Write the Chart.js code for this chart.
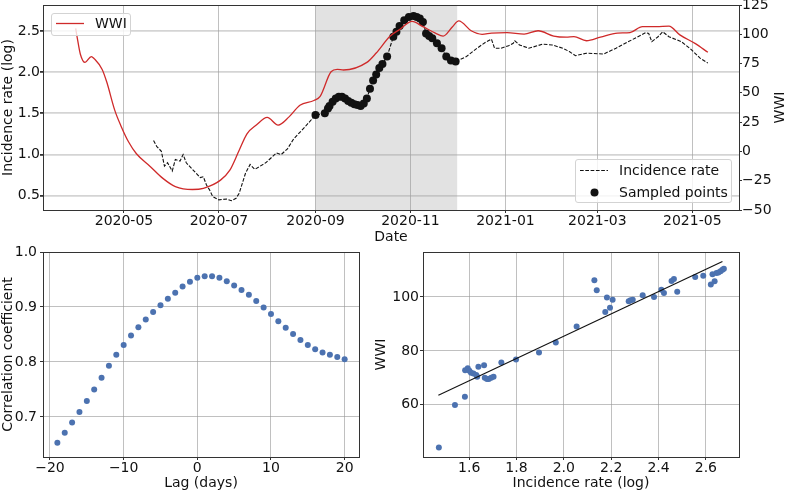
<!DOCTYPE html>
<html>
<head>
<meta charset="utf-8">
<script src="https://cdn.jsdelivr.net/npm/chart.js@4/dist/chart.umd.min.js"></script>
<style>
  body { margin: 0; background: #fff; }
  #wrap { position: relative; width: 787px; height: 492px; overflow: hidden; font-family: 'DejaVu Sans', sans-serif; }
  canvas { position: absolute; }
  .legend { position: absolute; box-sizing: border-box; background: rgba(255,255,255,0.8); border: 1px solid #d3d3d3; border-radius: 3px; }
  .legend svg { position: absolute; }
  .legend span { position: absolute; font-size: 14px; line-height: 17px; color: #111; white-space: nowrap; }
</style>
</head>
<body>
<div id="wrap">
  <canvas id="topChart" width="787" height="250" style="left:0;top:0"></canvas>
  <canvas id="lagChart" width="365" height="252" style="left:0;top:240px"></canvas>
  <canvas id="fitChart" width="422" height="252" style="left:365px;top:240px"></canvas>

  <div class="legend" style="left:51px;top:13px;width:80px;height:23px">
    <svg style="left:4px;top:8px" width="28" height="3"><line x1="0" y1="1.5" x2="28" y2="1.5" stroke="#cf2a2a" stroke-width="1.3"/></svg>
    <span style="left:43px;top:1px">WWI</span>
  </div>
  <div class="legend" style="left:575px;top:159px;width:157px;height:44px">
    <svg style="left:4px;top:9px" width="28" height="3"><line x1="0" y1="1.5" x2="28" y2="1.5" stroke="#111" stroke-width="1.1" stroke-dasharray="3.7 1.6"/></svg>
    <svg style="left:14px;top:28px" width="9" height="9"><circle cx="4.5" cy="4.5" r="4" fill="#111"/></svg>
    <span style="left:43px;top:2px">Incidence rate</span>
    <span style="left:43px;top:24px">Sampled points</span>
  </div>
</div>

<script>
/* =========================
   Top panel: WWI vs incidence rate
========================= */
const wwiDates = [
  '2020-03-31', '2020-04-01', '2020-04-03', '2020-04-06', '2020-04-10', '2020-04-12',
  '2020-04-17', '2020-04-20', '2020-04-25', '2020-04-29', '2020-05-04', '2020-05-09',
  '2020-05-18', '2020-05-26', '2020-06-03', '2020-06-14', '2020-06-21', '2020-07-02',
  '2020-07-08', '2020-07-14', '2020-07-19', '2020-07-25', '2020-08-01', '2020-08-08',
  '2020-08-15', '2020-08-22', '2020-08-31', '2020-09-04', '2020-09-11', '2020-09-15',
  '2020-09-19', '2020-10-04', '2020-10-10', '2020-10-19', '2020-10-25', '2020-11-02',
  '2020-11-09', '2020-11-17', '2020-11-22', '2020-11-28', '2020-12-02', '2020-12-10',
  '2020-12-17', '2020-12-23', '2021-01-02', '2021-01-13', '2021-01-22', '2021-02-01',
  '2021-02-09', '2021-02-14', '2021-02-22', '2021-03-03', '2021-03-14', '2021-03-22',
  '2021-03-30', '2021-04-08', '2021-04-16', '2021-04-23', '2021-05-03', '2021-05-11'
];
const wwiValues = [
  105, 97, 83, 76, 81, 79,
  70, 59, 35.5, 22, 8, -2,
  -13, -23, -30, -32.5, -31.5, -24.5,
  -16, 1, 15, 22.5, 29, 22.5,
  29.5, 39.5, 43.5, 47, 68, 70,
  69.5, 76, 84, 98.5, 104, 111,
  106.5, 101, 98.5, 106.5, 111.5, 103,
  100, 101, 101.5, 100.2, 103, 98.5,
  97.5, 98, 94.5, 97.5, 101, 101.5,
  106.5, 106.5, 107, 99.5, 92, 84.6
];

const incDates = [
  '2020-05-20', '2020-05-22', '2020-05-25', '2020-05-27', '2020-05-29', '2020-06-01',
  '2020-06-03', '2020-06-06', '2020-06-08', '2020-06-10', '2020-06-14', '2020-06-19',
  '2020-06-21', '2020-06-23', '2020-06-25', '2020-06-27', '2020-07-01', '2020-07-06',
  '2020-07-09', '2020-07-12', '2020-07-14', '2020-07-18', '2020-07-21', '2020-07-24',
  '2020-07-31', '2020-08-07', '2020-08-10', '2020-08-14', '2020-08-18', '2020-08-25',
  '2020-09-01', '2020-09-07', '2020-09-09', '2020-09-10', '2020-09-12', '2020-09-14',
  '2020-09-16', '2020-09-18', '2020-09-20', '2020-09-22', '2020-09-24', '2020-09-26',
  '2020-09-28', '2020-09-30', '2020-10-02', '2020-10-04', '2020-10-06', '2020-10-08',
  '2020-10-10', '2020-10-12', '2020-10-14', '2020-10-17', '2020-10-21', '2020-10-23',
  '2020-10-25', '2020-10-28', '2020-10-31', '2020-11-03', '2020-11-05', '2020-11-07',
  '2020-11-09', '2020-11-11', '2020-11-13', '2020-11-15', '2020-11-18', '2020-11-21',
  '2020-11-24', '2020-11-27', '2020-11-30', '2020-12-07', '2020-12-13', '2020-12-19',
  '2020-12-23', '2020-12-25', '2020-12-29', '2021-01-03', '2021-01-06', '2021-01-07',
  '2021-01-10', '2021-01-16', '2021-01-25', '2021-01-31', '2021-02-07', '2021-02-11',
  '2021-02-15', '2021-02-22', '2021-03-05', '2021-03-13', '2021-03-20', '2021-03-26',
  '2021-04-01', '2021-04-03', '2021-04-05', '2021-04-09', '2021-04-12', '2021-04-16',
  '2021-04-24', '2021-04-30', '2021-05-06', '2021-05-11'
];
const incValues = [
  1.17, 1.10, 1.04, 0.86, 0.90, 0.80,
  0.94, 0.92, 1.00, 0.90, 0.82, 0.72,
  0.73, 0.63, 0.57, 0.49, 0.45, 0.46,
  0.44, 0.47, 0.53, 0.77, 0.88, 0.82,
  0.90, 1.02, 1.00, 1.07, 1.19, 1.33,
  1.48, 1.50, 1.56, 1.59, 1.64, 1.68,
  1.70, 1.70, 1.68, 1.65, 1.63, 1.61,
  1.60, 1.59, 1.62, 1.68, 1.80, 1.90,
  1.97, 2.05, 2.10, 2.19, 2.43, 2.49,
  2.56, 2.63, 2.67, 2.68, 2.67, 2.65,
  2.61, 2.47, 2.44, 2.41, 2.35, 2.29,
  2.19, 2.14, 2.13, 2.19, 2.28, 2.36,
  2.40, 2.29, 2.29, 2.32, 2.35, 2.38,
  2.33, 2.29, 2.34, 2.33, 2.29, 2.25,
  2.20, 2.23, 2.22, 2.29, 2.36, 2.42,
  2.48, 2.47, 2.37, 2.43, 2.49, 2.43,
  2.37, 2.28, 2.17, 2.11
];

// sampling window (shaded)
const sampleStart = '2020-09-01';
const sampleEnd = '2020-12-01';

const dateMin = '2020-03-10';
const dateMax = '2021-05-31';
const dateTicks = ['2020-05-01', '2020-07-01', '2020-09-01', '2020-11-01', '2021-01-01', '2021-03-01', '2021-05-01'];
const dateTickLabels = ['2020-05', '2020-07', '2020-09', '2020-11', '2021-01', '2021-03', '2021-05'];
const incTicks = [0.5, 1.0, 1.5, 2.0, 2.5];
const wwiTicks = [-50, -25, 0, 25, 50, 75, 100, 125];

/* =========================
   Bottom left: lag correlation
========================= */
const lags = [-19, -18, -17, -16, -15, -14, -13, -12, -11, -10, -9, -8, -7, -6, -5, -4, -3, -2, -1, 0,
              1, 2, 3, 4, 5, 6, 7, 8, 9, 10, 11, 12, 13, 14, 15, 16, 17, 18, 19, 20];
const corr = [0.653, 0.671, 0.690, 0.709, 0.729, 0.750, 0.771, 0.793, 0.813, 0.831,
              0.848, 0.863, 0.877, 0.891, 0.903, 0.915, 0.926, 0.937, 0.946, 0.953,
              0.956, 0.956, 0.953, 0.947, 0.939, 0.931, 0.922, 0.911, 0.899, 0.887,
              0.874, 0.862, 0.851, 0.840, 0.831, 0.823, 0.817, 0.813, 0.809, 0.805];
const lagTicks = [-20, -10, 0, 10, 20];
const corrTicks = [0.7, 0.8, 0.9, 1.0];

/* =========================
   Bottom right: WWI vs incidence
========================= */
const scatterInc = [1.472, 1.540, 1.582, 1.583, 1.594, 1.601, 1.608, 1.618, 1.630, 1.634,
                    1.639, 1.663, 1.666, 1.675, 1.683, 1.693, 1.703, 1.736, 1.798, 1.895,
                    1.966, 2.054, 2.129, 2.139, 2.175, 2.182, 2.195, 2.206, 2.274, 2.282,
                    2.291, 2.333, 2.381, 2.412, 2.423, 2.455, 2.465, 2.479, 2.555, 2.589,
                    2.621, 2.628, 2.637, 2.645, 2.653, 2.662, 2.670, 2.676];
const scatterWwi = [44.1, 59.9, 63.0, 72.8, 73.5, 72.6, 71.9, 71.6, 71.0, 70.4,
                    74.1, 74.7, 70.0, 69.6, 69.6, 70.0, 70.4, 75.7, 76.8, 79.4,
                    83.1, 89.0, 106.2, 102.5, 94.4, 99.8, 96.0, 99.0, 98.4, 98.8,
                    99.0, 100.6, 100.0, 102.7, 101.5, 105.9, 106.7, 101.9, 107.4, 107.9,
                    104.6, 108.4, 105.8, 108.9, 109.1, 109.6, 110.1, 110.5];
const fitInc = [1.47, 2.67];
const fitWwi = [63.5, 113.2];
const scatterIncTicks = [1.6, 1.8, 2.0, 2.2, 2.4, 2.6];
const scatterWwiTicks = [60, 80, 100];


/* =========================
   Helpers
========================= */
Chart.defaults.font.family = "'DejaVu Sans', sans-serif";
Chart.defaults.font.size = 14;
Chart.defaults.color = '#111';

function toDay(d) {
    return Date.UTC(+d.slice(0, 4), +d.slice(5, 7) - 1, +d.slice(8, 10)) / 86400000;
}

function minus(v) {
    return String(v).replace('-', '\u2212');
}

// pin the axis box size so the plot area lands where it should
function fixBox(size) {
    return function (scale) {
        if (scale.isHorizontal()) {
            scale.height = size;
        } else {
            scale.width = size;
        }
        scale.paddingTop = 0;
        scale.paddingBottom = 0;
        scale.paddingLeft = 0;
        scale.paddingRight = 0;
    };
}

function setTicks(values) {
    return function (scale) {
        scale.ticks = values.map(v => ({ value: v }));
    };
}

const gridLight = 'rgba(160,160,160,0.45)';
const gridMid = 'rgba(150,150,150,0.6)';
const spine = '#333';

const frame = {
    id: 'frame',
    afterDatasetsDraw(chart) {
        const { ctx, chartArea: a } = chart;
        ctx.save();
        ctx.strokeStyle = spine;
        ctx.lineWidth = 1;
        ctx.strokeRect(Math.round(a.left) + 0.5, Math.round(a.top) + 0.5,
            Math.round(a.right - a.left), Math.round(a.bottom - a.top));
        ctx.restore();
    }
};

const shade = {
    id: 'shade',
    beforeDraw(chart) {
        const { ctx, chartArea: a, scales } = chart;
        const x0 = scales.x.getPixelForValue(toDay(sampleStart));
        const x1 = scales.x.getPixelForValue(toDay(sampleEnd));
        ctx.save();
        ctx.fillStyle = '#e2e2e2';
        ctx.fillRect(x0, a.top, x1 - x0, a.bottom - a.top);
        ctx.restore();
    }
};

// matplotlib-style right label (reads bottom to top)
const rightLabel = {
    id: 'rightLabel',
    afterDraw(chart) {
        const { ctx, chartArea: a } = chart;
        ctx.save();
        ctx.translate(chart.width - 7, (a.top + a.bottom) / 2);
        ctx.rotate(-Math.PI / 2);
        ctx.font = "14px 'DejaVu Sans'";
        ctx.fillStyle = '#111';
        ctx.textAlign = 'center';
        ctx.textBaseline = 'middle';
        ctx.fillText('WWI', 0, 0);
        ctx.restore();
    }
};


/* =========================
   Top chart
========================= */
const incPoints = incDates.map((d, i) => ({ x: toDay(d), y: incValues[i] }));
const sampledPoints = incPoints.filter(p => p.x >= toDay(sampleStart) && p.x < toDay(sampleEnd));

new Chart(document.getElementById('topChart'), {
    type: 'line',
    data: {
        datasets: [
            {
                label: 'WWI',
                data: wwiDates.map((d, i) => ({ x: toDay(d), y: wwiValues[i] })),
                yAxisID: 'y2',
                borderColor: '#cf2a2a',
                borderWidth: 1.3,
                pointRadius: 0,
                cubicInterpolationMode: 'monotone',
                order: 0
            },
            {
                label: 'Sampled points',
                data: sampledPoints,
                yAxisID: 'y',
                showLine: false,
                pointRadius: 4,
                pointBackgroundColor: '#111',
                pointBorderWidth: 0,
                order: 1
            },
            {
                label: 'Incidence rate',
                data: incPoints,
                yAxisID: 'y',
                borderColor: '#111',
                borderWidth: 1.1,
                borderDash: [3.7, 1.6],
                pointRadius: 0,
                tension: 0,
                order: 2
            }
        ]
    },
    options: {
        animation: false,
        responsive: false,
        devicePixelRatio: 1,
        layout: { padding: { top: 5, left: 0, right: 0, bottom: 0 } },
        plugins: { legend: { display: false }, tooltip: { enabled: false } },
        scales: {
            x: {
                type: 'linear',
                min: toDay(dateMin),
                max: toDay(dateMax),
                afterBuildTicks: setTicks(dateTicks.map(toDay)),
                afterFit: fixBox(40),
                ticks: { callback: (v, i) => dateTickLabels[i], padding: 0, maxRotation: 0, autoSkip: false },
                grid: { color: gridMid, lineWidth: 1, tickLength: 3, tickColor: spine },
                border: { display: false },
                title: { display: true, text: 'Date', padding: { top: 0, bottom: 4 } }
            },
            y: {
                position: 'left',
                min: 0.327,
                max: 2.815,
                afterBuildTicks: setTicks(incTicks),
                afterFit: fixBox(43),
                ticks: { callback: v => v.toFixed(1), padding: 0 },
                grid: { color: gridLight, lineWidth: 1.8, tickLength: 3, tickColor: spine },
                border: { display: false },
                title: { display: true, text: 'Incidence rate (log)', padding: 0 }
            },
            y2: {
                position: 'right',
                min: -50,
                max: 125,
                afterBuildTicks: setTicks(wwiTicks),
                afterFit: fixBox(48),
                ticks: { callback: v => minus(v), padding: 0 },
                grid: { drawOnChartArea: false, tickLength: 3, tickColor: spine },
                border: { display: false }
            }
        }
    },
    plugins: [shade, frame, rightLabel]
});


/* =========================
   Lag correlation chart
========================= */
new Chart(document.getElementById('lagChart'), {
    type: 'scatter',
    data: {
        datasets: [{
            data: lags.map((l, i) => ({ x: l, y: corr[i] })),
            pointRadius: 3,
            pointBackgroundColor: '#4c72b0',
            pointBorderWidth: 0
        }]
    },
    options: {
        animation: false,
        responsive: false,
        devicePixelRatio: 1,
        layout: { padding: { top: 12, left: 0, right: 6, bottom: 0 } },
        plugins: { legend: { display: false }, tooltip: { enabled: false } },
        scales: {
            x: {
                min: -20.95,
                max: 21.95,
                afterBuildTicks: setTicks(lagTicks),
                afterFit: fixBox(35),
                ticks: { callback: v => minus(v), padding: 0, maxRotation: 0 },
                grid: { color: gridMid, lineWidth: 1, tickLength: 3, tickColor: spine },
                border: { display: false },
                title: { display: true, text: 'Lag (days)', padding: { top: 0, bottom: 0 } }
            },
            y: {
                min: 0.627,
                max: 1.0,
                afterBuildTicks: setTicks(corrTicks),
                afterFit: fixBox(43),
                ticks: { callback: v => v.toFixed(1), padding: 3 },
                grid: { color: gridMid, lineWidth: 1, tickLength: 3, tickColor: spine },
                border: { display: false },
                title: { display: true, text: 'Correlation coefficient', padding: 0 }
            }
        }
    },
    plugins: [frame]
});


/* =========================
   WWI vs incidence chart
========================= */
new Chart(document.getElementById('fitChart'), {
    type: 'scatter',
    data: {
        datasets: [
            {
                type: 'line',
                data: fitInc.map((v, i) => ({ x: v, y: fitWwi[i] })),
                borderColor: '#111',
                borderWidth: 1.1,
                pointRadius: 0,
                order: 0
            },
            {
                data: scatterInc.map((v, i) => ({ x: v, y: scatterWwi[i] })),
                pointRadius: 3,
                pointBackgroundColor: '#4c72b0',
                pointBorderWidth: 0,
                order: 1
            }
        ]
    },
    options: {
        animation: false,
        responsive: false,
        devicePixelRatio: 1,
        layout: { padding: { top: 12, left: 0, right: 48, bottom: 0 } },
        plugins: { legend: { display: false }, tooltip: { enabled: false } },
        scales: {
            x: {
                type: 'linear',
                min: 1.405,
                max: 2.74,
                afterBuildTicks: setTicks(scatterIncTicks),
                afterFit: fixBox(35),
                ticks: { callback: v => v.toFixed(1), padding: 0, maxRotation: 0 },
                grid: { color: gridMid, lineWidth: 1, tickLength: 3, tickColor: spine },
                border: { display: false },
                title: { display: true, text: 'Incidence rate (log)', padding: { top: 0, bottom: 0 } }
            },
            y: {
                min: 40.6,
                max: 116.7,
                afterBuildTicks: setTicks(scatterWwiTicks),
                afterFit: fixBox(58),
                ticks: { callback: v => String(v), padding: 1 },
                grid: { color: gridMid, lineWidth: 1, tickLength: 3, tickColor: spine },
                border: { display: false },
                title: { display: true, text: 'WWI', padding: { top: 8, bottom: 0 } }
            }
        }
    },
    plugins: [frame]
});
</script>
</body>
</html>
